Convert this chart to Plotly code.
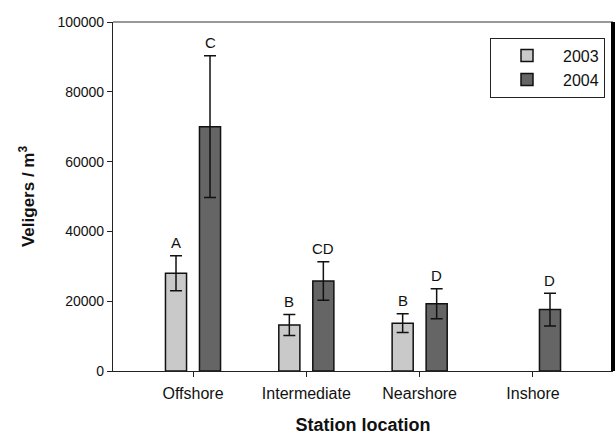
import plotly.graph_objects as go

categories = ["Offshore", "Intermediate", "Nearshore", "Inshore"]
v2003 = [28000, 13200, 13700, None]
e2003 = [5000, 3000, 2700, None]
l2003 = ["A", "B", "B", None]
v2004 = [70000, 25800, 19300, 17600]
e2004 = [20300, 5500, 4300, 4700]
l2004 = ["C", "CD", "D", "D"]
yticks = [0, 20000, 40000, 60000, 80000, 100000]

FONT = "Liberation Sans, Arial, sans-serif"

fig = go.Figure()
fig.add_trace(go.Bar(
    name="2003", x=categories, y=v2003,
    marker=dict(color="#c9c9c9", line=dict(color="#111111", width=1.5)),
    error_y=dict(type="data", array=e2003, color="#111111", thickness=1.5, width=6),
))
fig.add_trace(go.Bar(
    name="2004", x=categories, y=v2004,
    marker=dict(color="#656565", line=dict(color="#111111", width=1.5)),
    error_y=dict(type="data", array=e2004, color="#111111", thickness=1.5, width=6),
))

anns = []
for cat, v, e, l in zip(categories, v2003, e2003, l2003):
    if l:
        anns.append(dict(x=cat, y=v + e, text=l, xshift=-17, yshift=13, showarrow=False,
                         yanchor="middle", font=dict(size=15, color="#111", family=FONT)))
for cat, v, e, l in zip(categories, v2004, e2004, l2004):
    if l:
        anns.append(dict(x=cat, y=v + e, text=l, xshift=17, yshift=13, showarrow=False,
                         yanchor="middle", font=dict(size=15, color="#111", family=FONT)))

fig.update_layout(
    width=615, height=435,
    margin=dict(l=113, r=2, t=22, b=64),
    paper_bgcolor="white", plot_bgcolor="white",
    font=dict(family=FONT, color="#111"),
    barmode="group", bargap=0.4, bargroupgap=0.38,
    annotations=anns,
    showlegend=True,
    legend=dict(x=0.754, y=0.955, xanchor="left", yanchor="top",
                bordercolor="#222", borderwidth=1, bgcolor="white",
                font=dict(size=16, family=FONT, color="#111"),
                itemwidth=62, tracegroupgap=0),
    shapes=[
        dict(type="line", xref="paper", yref="paper", x0=0, x1=1, y0=1, y1=1,
             line=dict(color="#777777", width=1.5)),
        dict(type="line", xref="paper", yref="paper", x0=1, x1=1, y0=0, y1=1,
             line=dict(color="#000000", width=4)),
    ],
)
fig.update_xaxes(
    range=[-0.706, 3.706], showline=True, linecolor="#222", linewidth=1.2,
    ticks="outside", ticklen=5, tickcolor="#222", ticklabelstandoff=3,
    tickfont=dict(size=16, family=FONT, color="#111"),
    title=dict(text="<b>Station location</b>", font=dict(size=18, family=FONT, color="#111"), standoff=20),
    showgrid=False, zeroline=False, automargin=False,
)
fig.update_yaxes(
    range=[0, 100000], tickvals=yticks, ticktext=[str(t) for t in yticks],
    showline=True, linecolor="#222", linewidth=1.2,
    ticks="outside", ticklen=5, tickcolor="#222",
    tickfont=dict(size=14, family=FONT, color="#111"),
    title=dict(text="<b>Veligers / m<sup>3</sup></b>", font=dict(size=17, family=FONT, color="#111"), standoff=18),
    showgrid=False, zeroline=False, automargin=False,
)

fig.write_html("out.html", config={"displayModeBar": False},
               post_script="document.body.style.margin='0';document.body.style.overflow='hidden';")
